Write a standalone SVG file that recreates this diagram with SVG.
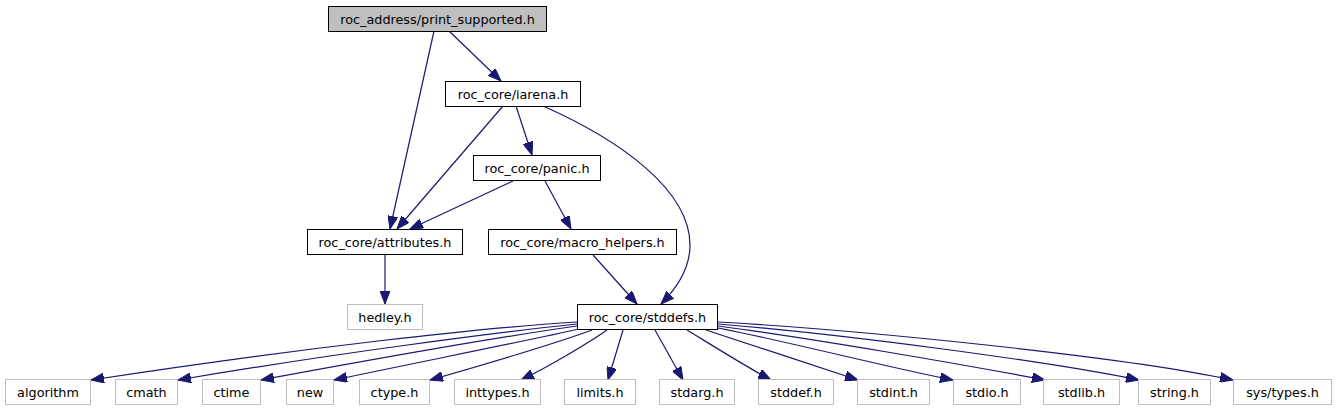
<svg xmlns="http://www.w3.org/2000/svg" width="1336" height="411" viewBox="0 0 1336 411">
<style>
.n rect{fill:#fff;stroke:#000;stroke-width:1}
.g rect{fill:#fff;stroke:#bfbfbf;stroke-width:1}
.r rect{fill:#bfbfbf;stroke:#000;stroke-width:1}
text{font-family:"DejaVu Sans","Liberation Sans",sans-serif;font-size:12.8px;text-anchor:middle;fill:#000}
.e path{fill:none;stroke:#191970;stroke-width:1.2;marker-end:url(#a)}
</style>
<defs>
<marker id="a" markerUnits="userSpaceOnUse" markerWidth="14" markerHeight="10" refX="13" refY="5" orient="auto">
<path d="M0,0 L13,5 L0,10 z" fill="#191970" stroke="#191970" stroke-width="1"/>
</marker>
</defs>
<rect width="1336" height="411" fill="#fff"/>
<g class="e" id="edges">
<path d="M434,31 L390,229"/>
<path d="M449,31 L501,81"/>
<path d="M503,106 L397,229"/>
<path d="M516,106 L532,155"/>
<path d="M543,106 C620,140 690,190 690,245 C690,270 675,290 661,304"/>
<path d="M513,181 L410,229"/>
<path d="M545,181 L571,229"/>
<path d="M385,255 L385,304"/>
<path d="M593,255 L637,304"/>
<path d="M577,322 C480,328 300,348 91,380"/>
<path d="M577,324 C500,332 330,354 178,380"/>
<path d="M577,326 C520,334 380,358 261,380"/>
<path d="M579,329 C540,338 420,362 334,380"/>
<path d="M592,330 C560,342 480,366 430,380"/>
<path d="M607,330 C590,342 550,366 521,380"/>
<path d="M623,330 L608,380"/>
<path d="M655,330 L683,380"/>
<path d="M687,330 C710,344 745,366 771,380"/>
<path d="M706,330 C750,344 820,368 858,380"/>
<path d="M718,328 C790,342 890,368 953,380"/>
<path d="M718,326 C810,338 960,364 1045,380"/>
<path d="M718,324 C840,334 1040,360 1139,380"/>
<path d="M718,322 C860,330 1120,356 1233,380"/>
</g>
<g id="n_print_supported" class="r"><rect x="328.5" y="6.5" width="218" height="25"/><text x="437.5" y="23.5">roc_address/print_supported.h</text></g>
<g id="n_iarena" class="n"><rect x="445.5" y="81.5" width="135" height="25"/><text x="513" y="98.5">roc_core/iarena.h</text></g>
<g id="n_panic" class="n"><rect x="473.5" y="155.5" width="127" height="25"/><text x="537" y="172.5">roc_core/panic.h</text></g>
<g id="n_attributes" class="n"><rect x="307.5" y="229.5" width="155" height="25"/><text x="385" y="246.5">roc_core/attributes.h</text></g>
<g id="n_macro_helpers" class="n"><rect x="488.5" y="229.5" width="188" height="25"/><text x="582.5" y="246.5">roc_core/macro_helpers.h</text></g>
<g id="n_hedley" class="g"><rect x="347.5" y="304.5" width="75" height="25"/><text x="385" y="321.5">hedley.h</text></g>
<g id="n_stddefs" class="n"><rect x="577.5" y="304.5" width="140" height="25"/><text x="647.5" y="321.5">roc_core/stddefs.h</text></g>
<g id="n_algorithm" class="g"><rect x="5.5" y="379.5" width="85" height="25"/><text x="48" y="396.5">algorithm</text></g>
<g id="n_cmath" class="g"><rect x="115.5" y="379.5" width="62" height="25"/><text x="146.5" y="396.5">cmath</text></g>
<g id="n_ctime" class="g"><rect x="202.5" y="379.5" width="58" height="25"/><text x="231.5" y="396.5">ctime</text></g>
<g id="n_new" class="g"><rect x="286.5" y="379.5" width="47" height="25"/><text x="310" y="396.5">new</text></g>
<g id="n_ctype" class="g"><rect x="359.5" y="379.5" width="70" height="25"/><text x="394.5" y="396.5">ctype.h</text></g>
<g id="n_inttypes" class="g"><rect x="454.5" y="379.5" width="86" height="25"/><text x="497.5" y="396.5">inttypes.h</text></g>
<g id="n_limits" class="g"><rect x="564.5" y="379.5" width="71" height="25"/><text x="600" y="396.5">limits.h</text></g>
<g id="n_stdarg" class="g"><rect x="659.5" y="379.5" width="75" height="25"/><text x="697" y="396.5">stdarg.h</text></g>
<g id="n_stddef" class="g"><rect x="758.5" y="379.5" width="75" height="25"/><text x="796" y="396.5">stddef.h</text></g>
<g id="n_stdint" class="g"><rect x="857.5" y="379.5" width="72" height="25"/><text x="893.5" y="396.5">stdint.h</text></g>
<g id="n_stdio" class="g"><rect x="953.5" y="379.5" width="67" height="25"/><text x="987" y="396.5">stdio.h</text></g>
<g id="n_stdlib" class="g"><rect x="1043.5" y="379.5" width="76" height="25"/><text x="1081.5" y="396.5">stdlib.h</text></g>
<g id="n_string" class="g"><rect x="1138.5" y="379.5" width="72" height="25"/><text x="1174.5" y="396.5">string.h</text></g>
<g id="n_systypes" class="g"><rect x="1233.5" y="379.5" width="98" height="25"/><text x="1282.5" y="396.5">sys/types.h</text></g>
</svg>
